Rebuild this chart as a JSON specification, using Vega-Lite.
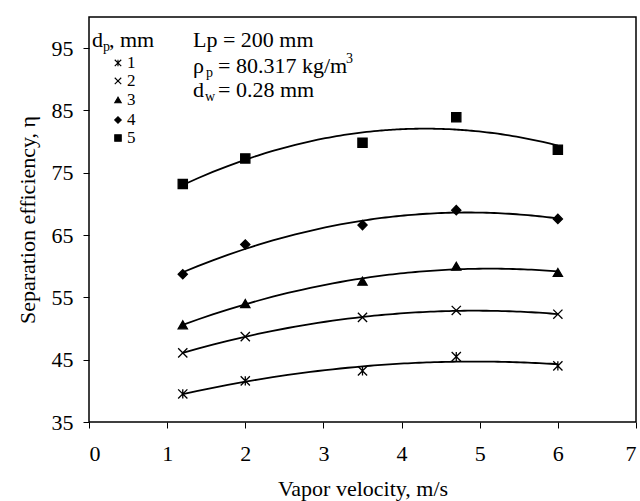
{
  "$schema": "https://vega.github.io/schema/vega-lite/v6.json",
  "width": 547,
  "height": 405,
  "autosize": {"type": "none"},
  "padding": {"left": 89, "top": 17, "right": 4, "bottom": 79},
  "background": "white",
  "config": {
    "font": "Liberation Serif",
    "view": {"stroke": "black", "strokeWidth": 1.5},
    "text": {"font": "Liberation Serif"},
    "axis": {"grid": false, "domain": false, "tickColor": "black", "tickSize": 6, "tickWidth": 1, "labelColor": "black", "titleColor": "black", "labelFont": "Liberation Serif", "titleFont": "Liberation Serif", "labelFontSize": 22, "titleFontSize": 22, "titleFontWeight": "normal"}
  },
  "datasets": {
    "eff": [
      {"v": 1.2, "eta": 39.5, "dp": "1"}, {"v": 2.0, "eta": 41.6, "dp": "1"}, {"v": 3.5, "eta": 43.2, "dp": "1"}, {"v": 4.7, "eta": 45.5, "dp": "1"}, {"v": 6.0, "eta": 44.0, "dp": "1"},
      {"v": 1.2, "eta": 46.1, "dp": "2"}, {"v": 2.0, "eta": 48.7, "dp": "2"}, {"v": 3.5, "eta": 51.8, "dp": "2"}, {"v": 4.7, "eta": 52.9, "dp": "2"}, {"v": 6.0, "eta": 52.3, "dp": "2"},
      {"v": 1.2, "eta": 50.6, "dp": "3"}, {"v": 2.0, "eta": 54.0, "dp": "3"}, {"v": 3.5, "eta": 57.6, "dp": "3"}, {"v": 4.7, "eta": 60.0, "dp": "3"}, {"v": 6.0, "eta": 59.0, "dp": "3"},
      {"v": 1.2, "eta": 58.7, "dp": "4"}, {"v": 2.0, "eta": 63.5, "dp": "4"}, {"v": 3.5, "eta": 66.6, "dp": "4"}, {"v": 4.7, "eta": 69.0, "dp": "4"}, {"v": 6.0, "eta": 67.6, "dp": "4"},
      {"v": 1.2, "eta": 73.2, "dp": "5"}, {"v": 2.0, "eta": 77.3, "dp": "5"}, {"v": 3.5, "eta": 79.8, "dp": "5"}, {"v": 4.7, "eta": 83.9, "dp": "5"}, {"v": 6.0, "eta": 78.7, "dp": "5"}
    ],
    "legend": [
      {"x": 0.371, "y": 92.62, "lx": 0.486, "dp": "1"},
      {"x": 0.371, "y": 89.73, "lx": 0.486, "dp": "2"},
      {"x": 0.371, "y": 86.68, "lx": 0.486, "dp": "3"},
      {"x": 0.371, "y": 83.47, "lx": 0.486, "dp": "4"},
      {"x": 0.371, "y": 80.58, "lx": 0.486, "dp": "5"}
    ],
    "mainText": [
      {"x": 0.038, "y": 95.19, "t": "d"},
      {"x": 0.256, "y": 95.19, "t": ", mm"},
      {"x": 1.331, "y": 95.19, "t": "Lp = 200 mm"},
      {"x": 1.331, "y": 91.01, "t": "ρ"},
      {"x": 1.651, "y": 91.01, "t": "= 80.317 kg/m"},
      {"x": 1.331, "y": 87.16, "t": "d"},
      {"x": 1.651, "y": 87.16, "t": "= 0.28 mm"}
    ],
    "smallText": [
      {"x": 0.179, "y": 94.54, "t": "p"},
      {"x": 1.497, "y": 90.37, "t": "p"},
      {"x": 3.289, "y": 92.62, "t": "3"},
      {"x": 1.485, "y": 86.52, "t": "w"}
    ]
  },
  "layer": [
    {
      "data": {"name": "eff"},
      "transform": [{"regression": "eta", "on": "v", "groupby": ["dp"], "method": "poly", "order": 2, "extent": [1.2, 6.0]}],
      "mark": {"type": "line", "color": "black", "strokeWidth": 1.8, "clip": true},
      "encoding": {
        "x": {"field": "v", "type": "quantitative", "scale": {"domain": [0, 7], "nice": false}, "axis": {"values": [0, 1, 2, 3, 4, 5, 6, 7], "format": "d", "title": "Vapor velocity, m/s", "labelPadding": 15, "titlePadding": 14}},
        "y": {"field": "eta", "type": "quantitative", "scale": {"domain": [35, 100], "nice": false, "zero": false}, "axis": {"values": [35, 45, 55, 65, 75, 85, 95], "format": "d", "title": "Separation efficiency, η", "labelPadding": 10, "titlePadding": 12}},
        "detail": {"field": "dp"}
      }
    },
    {
      "data": {"name": "eff"},
      "mark": {"type": "point", "filled": true, "fill": "black", "stroke": "black", "strokeWidth": 1.3, "opacity": 1, "size": 85},
      "encoding": {
        "x": {"field": "v", "type": "quantitative"},
        "y": {"field": "eta", "type": "quantitative"},
        "shape": {"field": "dp", "type": "nominal", "scale": {"domain": ["1", "2", "3", "4", "5"], "range": ["M-1,-1L1,1M-1,1L1,-1M0,-1L0,1", "M-1,-1L1,1M-1,1L1,-1", "triangle-up", "diamond", "square"]}, "legend": null}
      }
    },
    {
      "data": {"name": "legend"},
      "mark": {"type": "point", "filled": true, "fill": "black", "stroke": "black", "strokeWidth": 1.1, "opacity": 1, "size": 42},
      "encoding": {
        "x": {"field": "x", "type": "quantitative"},
        "y": {"field": "y", "type": "quantitative"},
        "shape": {"field": "dp", "type": "nominal", "legend": null}
      }
    },
    {
      "data": {"name": "legend"},
      "mark": {"type": "text", "align": "left", "baseline": "middle", "fontSize": 17, "color": "black"},
      "encoding": {
        "x": {"field": "lx", "type": "quantitative"},
        "y": {"field": "y", "type": "quantitative"},
        "text": {"field": "dp"}
      }
    },
    {
      "data": {"name": "mainText"},
      "mark": {"type": "text", "align": "left", "baseline": "alphabetic", "fontSize": 22, "color": "black"},
      "encoding": {
        "x": {"field": "x", "type": "quantitative"},
        "y": {"field": "y", "type": "quantitative"},
        "text": {"field": "t"}
      }
    },
    {
      "data": {"name": "smallText"},
      "mark": {"type": "text", "align": "left", "baseline": "alphabetic", "fontSize": 14, "color": "black"},
      "encoding": {
        "x": {"field": "x", "type": "quantitative"},
        "y": {"field": "y", "type": "quantitative"},
        "text": {"field": "t"}
      }
    }
  ]
}
